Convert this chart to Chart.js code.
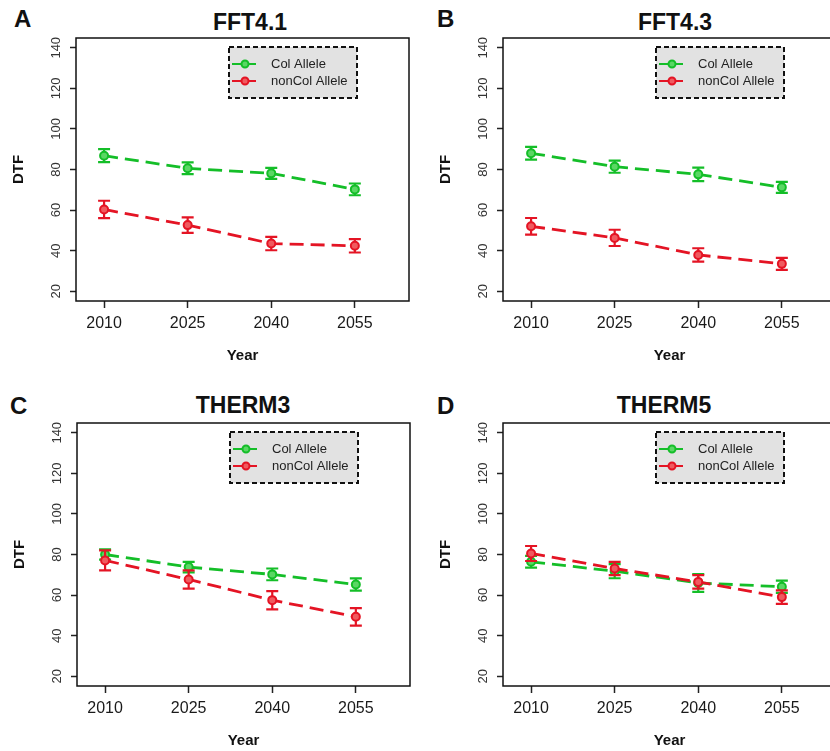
<!DOCTYPE html>
<html>
<head>
<meta charset="utf-8">
<script src="https://cdn.jsdelivr.net/npm/chart.js@4.4.0/dist/chart.umd.min.js"></script>
<style>
    body { margin: 0; width: 830px; height: 751px; overflow: hidden; background: #fff; position: relative; font-family: "Liberation Sans", Arial, sans-serif; }
    canvas { position: absolute; }
    .letter { position: absolute; font-weight: bold; font-size: 24px; color: #111; line-height: 1; }
    .title { position: absolute; font-weight: bold; font-size: 23px; color: #111; line-height: 1; transform: translateX(-50%); white-space: nowrap; }
</style>
</head>
<body>
<div class="letter" style="left:14px; top:7px">A</div>
<div class="title" style="left:250px; top:11px">FFT4.1</div>
<div class="letter" style="left:437px; top:7px">B</div>
<div class="title" style="left:675px; top:11px">FFT4.3</div>
<div class="letter" style="left:10px; top:394px">C</div>
<div class="title" style="left:243px; top:394px">THERM3</div>
<div class="letter" style="left:437px; top:394px">D</div>
<div class="title" style="left:664px; top:394px">THERM5</div>

<canvas id="chartA" width="415" height="375" style="left:0; top:0"></canvas>
<canvas id="chartB" width="415" height="375" style="left:427px; top:0"></canvas>
<canvas id="chartC" width="415" height="375" style="left:1px; top:385px"></canvas>
<canvas id="chartD" width="415" height="375" style="left:427px; top:385px"></canvas>

<script>
// Datos comunes
const years = [2010, 2025, 2040, 2055];
const yTicks = [20, 40, 60, 80, 100, 120, 140];
const seriesNames = ['Col Allele', 'nonCol Allele'];

// FFT4.1
const fft41Col = [86.8, 80.6, 78.1, 70.2];
const fft41ColErr = [3.2, 2.9, 2.7, 2.9];
const fft41Non = [60.3, 52.6, 43.5, 42.4];
const fft41NonErr = [4.3, 3.8, 3.3, 3.3];

// FFT4.3
const fft43Col = [88.0, 81.4, 77.6, 71.2];
const fft43ColErr = [3.1, 3.0, 3.3, 2.7];
const fft43Non = [52.0, 46.3, 37.9, 33.5];
const fft43NonErr = [4.1, 4.0, 3.3, 3.0];

// THERM3
const therm3Col = [80.0, 73.8, 70.2, 65.2];
const therm3ColErr = [2.5, 2.6, 2.9, 3.0];
const therm3Non = [77.1, 67.7, 57.5, 49.3];
const therm3NonErr = [4.9, 4.5, 4.5, 4.3];

// THERM5
const therm5Col = [76.4, 71.8, 66.0, 64.1];
const therm5ColErr = [2.9, 3.5, 4.4, 3.0];
const therm5Non = [80.5, 73.1, 66.5, 59.0];
const therm5NonErr = [3.7, 3.3, 3.3, 3.3];

const green = 'rgb(20, 190, 40)';
const red = 'rgb(228, 20, 36)';

Chart.defaults.font.family = '"Liberation Sans", Arial, sans-serif';

// barras de error
const errorBars = {
    id: 'errorBars',
    beforeDatasetDraw(chart, args) {
        const ds = chart.data.datasets[args.index];
        if (!ds.errors) return;
        const { ctx, scales: { x, y } } = chart;
        ctx.save();
        ctx.strokeStyle = ds.borderColor;
        ctx.lineWidth = 2.2;
        ds.data.forEach((p, i) => {
            const px = x.getPixelForValue(p.x);
            const top = y.getPixelForValue(p.y + ds.errors[i]);
            const bot = y.getPixelForValue(p.y - ds.errors[i]);
            ctx.beginPath();
            ctx.moveTo(px, top); ctx.lineTo(px, bot);
            ctx.moveTo(px - 6, top); ctx.lineTo(px + 6, top);
            ctx.moveTo(px - 6, bot); ctx.lineTo(px + 6, bot);
            ctx.stroke();
        });
        ctx.restore();
    }
};

// caja del grafico y leyenda con borde punteado
const boxLegend = {
    id: 'boxLegend',
    afterDraw(chart) {
        const { ctx, chartArea: a } = chart;
        ctx.save();
        ctx.strokeStyle = '#111';
        ctx.lineWidth = 1.5;
        ctx.strokeRect(a.left, a.top, a.right - a.left, a.bottom - a.top);

        const lx = a.left + 153, ly = a.top + 9, lw = 128, lh = 51;
        ctx.fillStyle = '#e2e2e2';
        ctx.fillRect(lx, ly, lw, lh);
        ctx.setLineDash([5, 3]);
        ctx.lineWidth = 2;
        ctx.strokeRect(lx, ly, lw, lh);
        ctx.setLineDash([]);

        chart.data.datasets.forEach((ds, i) => {
            const cy = ly + 17 + i * 17;
            ctx.strokeStyle = ds.borderColor;
            ctx.lineWidth = 2;
            ctx.setLineDash([10, 4]);
            ctx.beginPath();
            ctx.moveTo(lx + 3, cy); ctx.lineTo(lx + 29, cy);
            ctx.stroke();
            ctx.setLineDash([]);
            ctx.fillStyle = ds.pointBackgroundColor;
            ctx.beginPath();
            ctx.arc(lx + 16, cy, 3.5, 0, Math.PI * 2);
            ctx.fill();
            ctx.stroke();
            ctx.fillStyle = '#222';
            ctx.font = '13px "Liberation Sans", Arial, sans-serif';
            ctx.textBaseline = 'middle';
            ctx.fillText(ds.label, lx + 42, cy);
        });
        ctx.restore();
    }
};

function makeDataset(label, values, errors, color, fill, order) {
    return {
        label: label,
        data: values.map((v, i) => ({ x: years[i], y: v })),
        errors: errors,
        borderColor: color,
        backgroundColor: color,
        pointBackgroundColor: fill,
        pointBorderColor: color,
        pointRadius: 4,
        pointBorderWidth: 2,
        borderWidth: 2.8,
        borderDash: [14, 7],
        order: order
    };
}

function createChart(id, col, colErr, non, nonErr) {
    const ctx = document.getElementById(id).getContext('2d');
    new Chart(ctx, {
        type: 'line',
        data: {
            datasets: [
                makeDataset(seriesNames[0], col, colErr, green, 'rgb(90, 215, 100)', 1),
                makeDataset(seriesNames[1], non, nonErr, red, 'rgb(240, 90, 95)', 0)
            ]
        },
        options: {
            responsive: false,
            animation: false,
            layout: { padding: { top: 38, right: 6, left: 0, bottom: 0 } },
            plugins: { legend: { display: false }, tooltip: { enabled: false } },
            scales: {
                x: {
                    type: 'linear',
                    min: 2004.96,
                    max: 2064.72,
                    afterBuildTicks: s => { s.ticks = years.map(v => ({ value: v })); },
                    afterFit: s => { s.height = 74; },
                    ticks: { callback: v => String(v), font: { size: 16 }, color: '#1a1a1a', padding: 6, maxRotation: 0, autoSkip: false },
                    grid: { drawOnChartArea: false, tickLength: 7, tickWidth: 1.5, tickColor: '#222' },
                    border: { display: false },
                    title: { display: true, text: 'Year', font: { size: 15, weight: 'bold' }, color: '#111', padding: { top: 0, bottom: 10 } }
                },
                y: {
                    min: 15.2,
                    max: 144.8,
                    afterBuildTicks: s => { s.ticks = yTicks.map(v => ({ value: v })); },
                    afterFit: s => { s.width = 76; },
                    ticks: { minRotation: 90, maxRotation: 90, crossAlign: 'center', padding: 3, font: { size: 13 }, color: '#333' },
                    grid: { drawOnChartArea: false, tickLength: 6, tickWidth: 1.5, tickColor: '#222' },
                    border: { display: false },
                    title: { display: true, text: 'DTF', font: { size: 15, weight: 'bold' }, color: '#111', padding: { top: 10, bottom: 0 } }
                }
            }
        },
        plugins: [errorBars, boxLegend]
    });
}

document.addEventListener('DOMContentLoaded', () => {
    createChart('chartA', fft41Col, fft41ColErr, fft41Non, fft41NonErr);
    createChart('chartB', fft43Col, fft43ColErr, fft43Non, fft43NonErr);
    createChart('chartC', therm3Col, therm3ColErr, therm3Non, therm3NonErr);
    createChart('chartD', therm5Col, therm5ColErr, therm5Non, therm5NonErr);
});
</script>
</body>
</html>
